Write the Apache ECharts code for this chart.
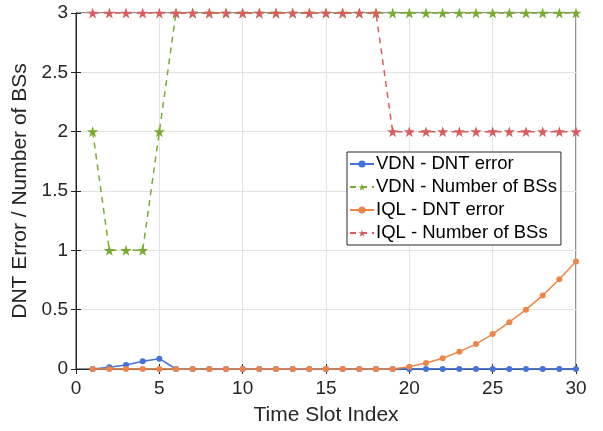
<!DOCTYPE html>
<html>
<head>
<meta charset="utf-8">
<script src="https://cdn.jsdelivr.net/npm/echarts@6/dist/echarts.min.js"></script>
<style>
  html, body { margin: 0; padding: 0; background: #fff; }
  #chart { width: 603px; height: 431px; }
</style>
</head>
<body>
<div id="chart"></div>
<script>
const timeSlots = Array.from({ length: 30 }, (_, i) => i + 1);
const vdnError = [0, 0.014, 0.034, 0.065, 0.087, 0, 0, 0, 0, 0, 0, 0, 0, 0, 0, 0, 0, 0, 0, 0, 0, 0, 0, 0, 0, 0, 0, 0, 0, 0];
const vdnBSs = [2, 1, 1, 1, 2, 3, 3, 3, 3, 3, 3, 3, 3, 3, 3, 3, 3, 3, 3, 3, 3, 3, 3, 3, 3, 3, 3, 3, 3, 3];
const iqlError = [0, 0, 0, 0, 0, 0, 0, 0, 0, 0, 0, 0, 0, 0, 0, 0, 0, 0, 0, 0.02, 0.05, 0.09, 0.146, 0.21, 0.294, 0.395, 0.5, 0.62, 0.756, 0.905];
const iqlBSs = [3, 3, 3, 3, 3, 3, 3, 3, 3, 3, 3, 3, 3, 3, 3, 3, 3, 3, 2, 2, 2, 2, 2, 2, 2, 2, 2, 2, 2, 2];
const seriesNames = ['VDN - DNT error', 'VDN - Number of BSs', 'IQL - DNT error', 'IQL - Number of BSs'];

const star = 'path://M50,0 L61.8,35.1 L98.9,35.1 L69,57.3 L80.3,92.7 L50,71 L19.7,92.7 L31,57.3 L1.1,35.1 L38.2,35.1 Z';
const pair = arr => arr.map((v, i) => [timeSlots[i], v]);

const chart = echarts.init(document.getElementById('chart'));
const font = 'Helvetica, "Liberation Sans", Arial, sans-serif';
const axisColor = '#262626';

function lineSeries(name, data, color, dashed, symbol, size) {
  return {
    name: name,
    type: 'line',
    data: pair(data),
    symbol: symbol,
    symbolSize: size,
    clip: false,
    itemStyle: { color: color },
    lineStyle: { color: color, width: 1.5, type: dashed ? [6, 5] : 'solid' },
    emphasis: { disabled: true }
  };
}

chart.setOption({
  animation: false,
  textStyle: { fontFamily: font },
  grid: { left: 76, right: 27, top: 13, bottom: 61, show: true, borderColor: axisColor, borderWidth: 1 },
  legend: {
    orient: 'vertical',
    left: 347,
    top: 152,
    itemGap: 1,
    itemWidth: 24,
    itemHeight: 9,
    padding: [1, 4, 1, 2],
    backgroundColor: '#fff',
    borderColor: axisColor,
    borderWidth: 1,
    borderRadius: 0,
    textStyle: { fontSize: 18.5, lineHeight: 22, color: '#000', fontFamily: font, padding: [0, 0, 0, -3] },
    data: seriesNames
  },
  xAxis: [{
    type: 'value',
    min: 0, max: 30, interval: 5,
    name: 'Time Slot Index',
    nameLocation: 'middle',
    nameGap: 36,
    nameTextStyle: { fontSize: 21, color: '#262626' },
    axisLine: { show: true, onZero: false, lineStyle: { color: axisColor } },
    axisTick: { show: true, inside: true, length: 5, lineStyle: { color: axisColor } },
    axisLabel: { fontSize: 19, color: '#262626', margin: 10 },
    splitLine: { show: true, lineStyle: { color: '#e3e3e3' } }
  }, {
    type: 'value', position: 'top',
    min: 0, max: 30, interval: 5,
    axisLine: { show: true, lineStyle: { color: axisColor } },
    axisTick: { show: true, inside: true, length: 5, lineStyle: { color: axisColor } },
    axisLabel: { show: false },
    splitLine: { show: false }
  }],
  yAxis: [{
    type: 'value',
    min: 0, max: 3, interval: 0.5,
    name: 'DNT Error / Number of BSs',
    nameLocation: 'middle',
    nameGap: 38,
    nameTextStyle: { fontSize: 21, color: '#262626' },
    axisLine: { show: true, lineStyle: { color: axisColor } },
    axisTick: { show: true, inside: true, length: 5, lineStyle: { color: axisColor } },
    axisLabel: { fontSize: 19, color: '#262626', margin: 8 },
    splitLine: { show: true, lineStyle: { color: '#e3e3e3' } }
  }, {
    type: 'value', position: 'right',
    min: 0, max: 3, interval: 0.5,
    axisLine: { show: true, lineStyle: { color: axisColor } },
    axisTick: { show: true, inside: true, length: 5, lineStyle: { color: axisColor } },
    axisLabel: { show: false },
    splitLine: { show: false }
  }],
  series: [
    lineSeries(seriesNames[0], vdnError, '#4472d5', false, 'circle', 6),
    lineSeries(seriesNames[1], vdnBSs, '#77ac30', true, star, 11),
    lineSeries(seriesNames[2], iqlError, '#ee8548', false, 'circle', 6),
    lineSeries(seriesNames[3], iqlBSs, '#db5c5e', true, star, 11)
  ]
});
</script>
</body>
</html>
